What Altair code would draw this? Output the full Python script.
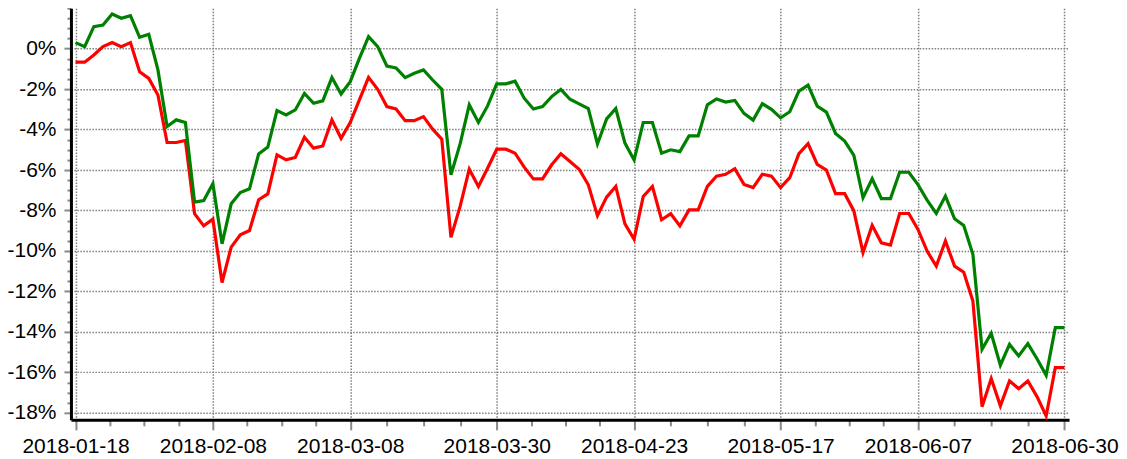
import altair as alt
import pandas as pd

# Cumulative returns (%) for the two series, one value per trading day
green = [0.30, 0.10, 1.09, 1.17, 1.71, 1.50, 1.63, 0.56, 0.71, -1.05,
         -3.85, -3.52, -3.65, -7.59, -7.51, -6.68, -9.65, -7.67, -7.11, -6.93,
         -5.20, -4.87, -3.06, -3.28, -3.03, -2.21, -2.70, -2.58, -1.43, -2.24,
         -1.63, -0.48, 0.59, 0.10, -0.86, -0.95, -1.43, -1.22, -1.05, -1.55,
         -2.01, -6.24, -4.71, -2.78, -3.65, -2.83, -1.74, -1.74, -1.61, -2.45,
         -2.98, -2.86, -2.37, -2.02, -2.50, -2.73, -2.96, -4.71, -3.47, -2.96,
         -4.67, -5.50, -3.65, -3.65, -5.17, -5.00, -5.09, -4.31, -4.31, -2.78,
         -2.49, -2.64, -2.56, -3.20, -3.53, -2.72, -3.00, -3.42, -3.12, -2.10,
         -1.80, -2.84, -3.14, -4.19, -4.57, -5.28, -7.37, -6.43, -7.41, -7.41,
         -6.11, -6.11, -6.72, -7.49, -8.15, -7.29, -8.41, -8.74, -10.17, -14.86,
         -14.07, -15.65, -14.62, -15.19, -14.58, -15.33, -16.15, -13.79, -13.79]

red = [-0.67, -0.67, -0.31, 0.10, 0.30, 0.10, 0.30, -1.14, -1.47, -2.29,
       -4.64, -4.64, -4.54, -8.16, -8.76, -8.43, -11.56, -9.81, -9.20, -8.99,
       -7.47, -7.18, -5.25, -5.50, -5.38, -4.38, -4.92, -4.81, -3.52, -4.43,
       -3.65, -2.53, -1.42, -2.01, -2.86, -2.98, -3.56, -3.56, -3.36, -3.98,
       -4.48, -9.33, -7.80, -5.96, -6.81, -5.91, -4.97, -4.97, -5.17, -5.86,
       -6.44, -6.44, -5.74, -5.20, -5.58, -5.96, -6.73, -8.26, -7.34, -6.81,
       -8.66, -9.42, -7.31, -6.81, -8.46, -8.16, -8.76, -7.97, -7.97, -6.81,
       -6.31, -6.21, -5.93, -6.71, -6.87, -6.21, -6.30, -6.87, -6.38, -5.19,
       -4.70, -5.72, -6.00, -7.17, -7.17, -8.02, -10.08, -8.73, -9.60, -9.71,
       -8.15, -8.15, -8.94, -10.01, -10.75, -9.51, -10.75, -11.05, -12.48, -17.70,
       -16.31, -17.66, -16.43, -16.81, -16.43, -17.20, -18.16, -15.77, -15.77]

tick_labels = ["2018-01-18", "2018-02-08", "2018-03-08", "2018-03-30",
               "2018-04-23", "2018-05-17", "2018-06-07", "2018-06-30"]
tick_index = [0, 15, 30, 46, 61, 77, 92, 108]
y_labels = [-18, -16, -14, -12, -10, -8, -6, -4, -2, 0]

df = pd.DataFrame({"i": list(range(len(green))), "green": green, "red": red})

# minor ticks: four sub-intervals between labelled ticks
x_ticks = []
for a, b in zip(tick_index[:-1], tick_index[1:]):
    for k in range(4):
        x_ticks.append(a + (b - a) * k / 4)
x_ticks.append(tick_index[-1])

y_ticks = [-18 + 0.5 * k for k in range(41)]

major_list = "[" + ",".join(str(v) for v in tick_index) + "]"
x_major_test = f"indexof({major_list}, datum.value) >= 0"
x_label_expr = " : ".join(f"datum.value == {p} ? '{l}'" for p, l in zip(tick_index, tick_labels)) + " : ''"
y_list = "[" + ",".join(str(v) for v in y_labels) + "]"
y_major_test = f"indexof({y_list}, datum.value) >= 0"

FONT = "Liberation Sans"
GRID = "#808080"
TICK = "#8a8a8a"

x_enc = alt.X(
    "i:Q",
    scale=alt.Scale(domain=[-0.5, 108.5], nice=False, zero=False),
    axis=alt.Axis(
        values=x_ticks, labelExpr=x_label_expr, title=None,
        grid=True, gridColor=GRID, gridDash=[1.5, 1.5], gridWidth=1.5,
        gridOpacity={"condition": {"test": x_major_test, "value": 1}, "value": 0},
        tickSize={"condition": {"test": x_major_test, "value": 10}, "value": 6},
        tickColor=TICK, tickWidth=2,
        domainColor="black", domainWidth=3,
        labelFont=FONT, labelFontSize=21, labelColor="black",
        labelPadding=6, labelOverlap=False, labelFlush=False,
    ),
)

def y_enc(field):
    return alt.Y(
        f"{field}:Q",
        scale=alt.Scale(domain=[-18.35, 2.0], nice=False, zero=False),
        axis=alt.Axis(
            values=y_ticks, title=None,
            labelExpr=f"{y_major_test} ? datum.value + '%' : ''",
            grid=True, gridColor=GRID, gridDash=[1.5, 1.5], gridWidth=1.5,
            gridOpacity={"condition": {"test": y_major_test, "value": 1}, "value": 0},
            tickSize={"condition": {"test": y_major_test, "value": 7}, "value": 4},
            tickColor=TICK, tickWidth=2,
            domainColor="black", domainWidth=3,
            labelFont=FONT, labelFontSize=21, labelColor="black",
            labelPadding=8, labelOverlap=False, labelFlush=False,
        ),
    )

base = alt.Chart(df)
red_line = base.mark_line(color="#ff0000", strokeWidth=3.2).encode(x=x_enc, y=y_enc("red"))
green_line = base.mark_line(color="#008000", strokeWidth=3.2).encode(x=x_enc, y=y_enc("green"))

chart = alt.layer(red_line, green_line).properties(
    width=999, height=412,
    padding={"left": 63, "top": 0, "right": 50, "bottom": 40},
    autosize=alt.AutoSizeParams(type="none"),
    background="white",
).configure_view(strokeWidth=0)

chart.save("out.html", embed_options={"renderer": "svg", "actions": False})
